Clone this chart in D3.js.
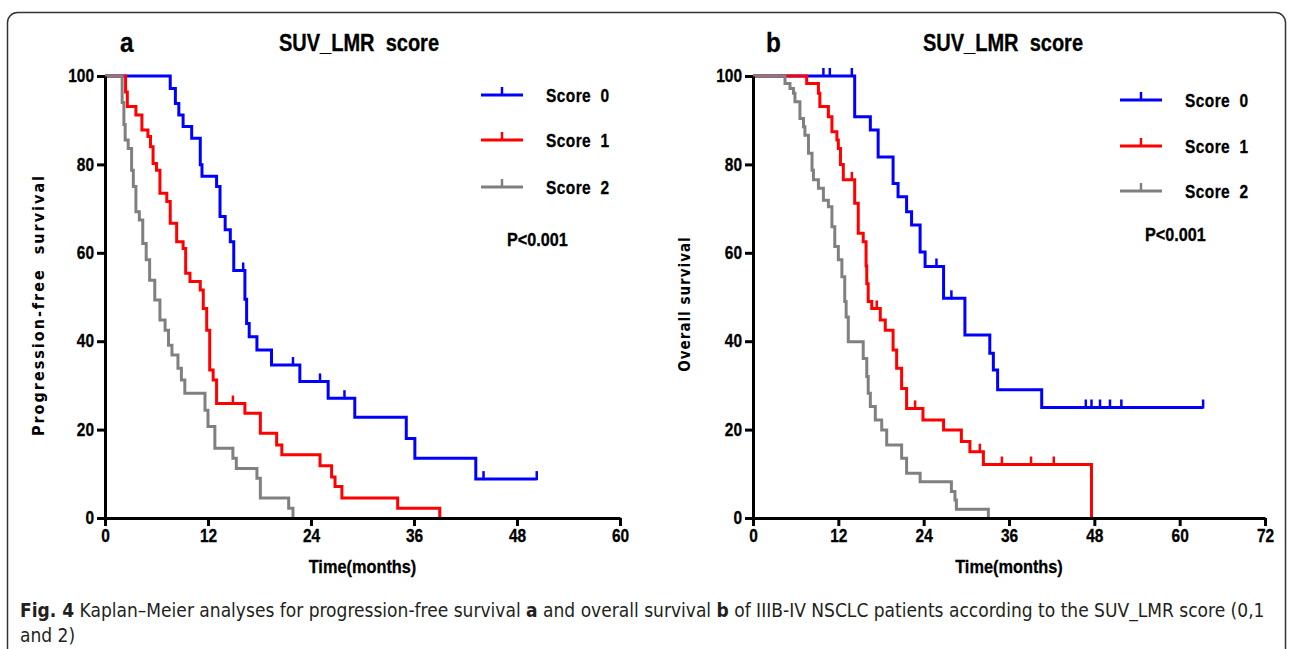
<!DOCTYPE html>
<html>
<head>
<meta charset="utf-8">
<script src="https://cdn.jsdelivr.net/npm/d3@7"></script>
<style>
  body { margin: 0; background: #fff; }
  svg { display: block; }
  .cond { font-family: 'Liberation Sans', Arial, sans-serif; font-weight: bold; fill: #000; stroke: #000; stroke-width: 0.3px; }
  .vlab { font-family: 'DejaVu Sans Condensed', 'DejaVu Sans', sans-serif; font-weight: bold; fill: #000; }
  .axis path, .axis line { stroke: #000; stroke-width: 3; }
  .axis text { font-family: 'Liberation Sans', Arial, sans-serif; font-weight: bold; font-size: 18px; fill: #000; stroke: #000; stroke-width: 0.3px; }
  .km { fill: none; stroke-width: 3; }
  .caption { font-family: 'DejaVu Sans Condensed', 'DejaVu Sans', sans-serif; font-size: 19px; fill: #231f20; }
</style>
</head>
<body>
<div class="chart"></div>
<script>
// ---- data: [months, % surviving] steps ----
const groups = ["Score  0", "Score  1", "Score  2"]
const colors = ["#0000ff", "#ff0000", "#808080"]

// a: progression-free survival
const pfs0 = [[0,100],[7.6,97.2],[8.2,93.8],[8.6,91.2],[9.1,88.6],[10.1,85.9],[11.1,79.9],[11.3,77.3],[13.0,75.0],[13.4,68.2],[14.0,65.2],[14.6,62.5],[15.0,56.0],[16.3,49.5],[16.5,44.0],[16.8,41.0],[17.7,38.0],[19.4,34.6],[22.7,30.9],[26.0,27.1],[29.1,22.8],[35.1,18.0],[36.1,13.5],[43.2,8.8],[50.3,8.8]]
const pfs1 = [[0,100],[2.4,96.4],[2.6,93.1],[3.6,91.2],[4.3,87.8],[5.0,86.3],[5.3,84.0],[5.6,80.2],[6.0,78.7],[6.4,73.5],[7.2,71.6],[7.6,66.7],[8.35,62.5],[9.1,61.0],[9.4,55.4],[9.9,53.5],[11.1,51.6],[11.45,47.4],[11.85,42.5],[12.2,33.5],[12.6,31.2],[13.0,25.9],[16.3,23.7],[18.1,19.2],[20.0,16.5],[20.6,14.3],[25.05,11.8],[26.4,9.3],[26.8,7.1],[27.6,4.5],[34.1,2.2],[39.0,0]]
const pfs2 = [[0,100],[2.0,94.0],[2.2,89.0],[2.35,85.5],[2.7,83.6],[3.1,78.7],[3.3,75.0],[3.6,69.3],[4.0,67.4],[4.4,62.1],[4.8,58.4],[5.2,53.8],[5.8,49.3],[6.4,44.8],[7.0,42.5],[7.4,39.1],[7.8,36.9],[8.5,33.9],[8.9,31.2],[9.3,28.2],[11.65,24.4],[12.0,20.7],[12.8,15.8],[14.9,13.5],[15.3,11.2],[17.7,9.0],[18.1,4.5],[21.4,2.2],[21.9,0]]
const pfs0Cens = [16.1, 21.9, 25.05, 27.9, 44.1, 50.3]
const pfs1Cens = [14.9]
const pfs2Cens = []

// b: overall survival
const os0 = [[0,100],[14.3,90.8],[16.5,87.8],[17.6,81.7],[19.7,75.7],[20.4,72.7],[21.6,69.3],[22.3,66.3],[23.5,60.2],[24.2,56.9],[26.8,49.7],[29.8,41.4],[33.3,37.3],[33.8,33.5],[34.4,29.0],[40.6,25.0],[63.3,25.0]]
const os1 = [[0,100],[7.55,98.3],[9.2,96.1],[9.4,93.1],[10.6,90.8],[11.1,87.4],[11.8,85.5],[12.0,83.6],[12.3,80.0],[12.7,76.5],[14.3,71.2],[14.8,64.4],[15.5,62.5],[15.9,57.0],[16.0,53.0],[16.2,49.0],[16.7,47.4],[17.9,44.8],[18.6,42.5],[19.7,38.0],[20.2,33.9],[20.9,29.3],[21.6,24.8],[23.9,22.2],[26.8,19.9],[29.3,17.3],[30.5,15.0],[32.4,12.1],[47.6,0]]
const os2 = [[0,100],[4.5,98.3],[5.2,97.2],[5.7,96.1],[5.9,94.2],[6.6,90.4],[7.1,88.5],[7.3,86.6],[7.8,82.5],[8.3,78.7],[8.5,76.5],[9.2,74.6],[9.9,71.9],[10.6,70.4],[11.1,65.9],[11.5,61.4],[12.0,58.4],[12.5,54.6],[12.9,49.0],[13.1,45.5],[13.4,39.9],[15.5,36.1],[16.0,32.0],[16.2,28.2],[16.5,25.2],[17.2,22.2],[18.1,19.9],[18.8,16.5],[20.9,13.5],[21.6,10.1],[23.5,8.2],[27.9,6.0],[28.4,4.1],[28.6,2.0],[33.1,0]]
const os0Cens = [9.9, 10.8, 13.9, 25.8, 27.9, 46.8, 47.6, 48.8, 50.2, 51.8, 63.3]
const os1Cens = [13.9, 17.4, 22.8, 31.9, 35.0, 39.1, 42.3]
const os2Cens = []

const yTicks = [0, 20, 40, 60, 80, 100]
const xTicksA = [0, 12, 24, 36, 48, 60]
const xTicksB = [0, 12, 24, 36, 48, 60, 72]

const width = 1292, height = 649
const sx = 0.86   // squeeze to mimic the condensed bold face

const svg = d3.select(".chart").append("svg")
    .attr("width", width)
    .attr("height", height)

svg.append("rect")
    .attr("x", 7.5).attr("y", 12.5)
    .attr("width", 1278).attr("height", 700)
    .attr("rx", 10)
    .style("fill", "none").style("stroke", "#333").style("stroke-width", 1.5)

// survival value at time t (step function)
function survAt(curve, t) {
    let s = curve[0][1]
    curve.forEach(function(p) { if (p[0] <= t) s = p[1] })
    return s
}

// condensed text: placed by translate, squeezed horizontally
function narrowText(sel, x, y, size, txt, k) {
    return sel.append("text")
        .attr("class", "cond")
        .attr("transform", "translate(" + x + "," + y + ") scale(" + (k || sx) + ",1)")
        .style("font-size", size + "px")
        .style("white-space", "pre")
        .text(txt)
}

function drawPanel(opt) {
    const x = d3.scaleLinear().domain([0, opt.xTicks[opt.xTicks.length - 1]]).range([opt.left, opt.right])
    const y = d3.scaleLinear().domain([0, 100]).range([518, 76])

    const g = svg.append("g")

    const line = d3.line()
        .x(d => x(d[0]))
        .y(d => y(d[1]))
        .curve(d3.curveStepAfter)

    // blue first, grey on top
    opt.curves.forEach(function(c, i) {
        g.append("path")
            .attr("class", "km")
            .attr("d", line(c))
            .style("stroke", colors[i])

        opt.cens[i].forEach(function(t) {
            g.append("line")
                .attr("x1", x(t)).attr("x2", x(t))
                .attr("y1", y(survAt(c, t)) + 1)
                .attr("y2", y(survAt(c, t)) - 8)
                .style("stroke", colors[i])
                .style("stroke-width", 2.5)
        })
    })

    const yG = g.append("g")
        .attr("class", "axis")
        .attr("transform", "translate(" + opt.left + ",0)")
        .call(d3.axisLeft(y).tickValues(yTicks).tickSize(8).tickSizeOuter(0).tickPadding(3))
    yG.selectAll("text").attr("x", -11 / sx).attr("transform", "scale(" + sx + ",1)")

    const xG = g.append("g")
        .attr("class", "axis")
        .attr("transform", "translate(0,518)")
        .call(d3.axisBottom(x).tickValues(opt.xTicks).tickSize(8).tickSizeOuter(0).tickPadding(3))
    xG.selectAll("text").attr("transform", "scale(" + sx + ",1)")

    narrowText(g, opt.letterX, 52, 27, opt.letter, 0.9)
    narrowText(g, opt.titleX, 51, 23, "SUV_LMR  score", 0.87).attr("text-anchor", "middle")
    narrowText(g, (opt.left + opt.right) / 2, 573, 19, "Time(months)").attr("text-anchor", "middle")

    g.append("text")
        .attr("class", "vlab")
        .attr("transform", "translate(" + opt.yLabelX + "," + opt.yLabelY + ") rotate(-90)")
        .attr("text-anchor", "middle")
        .style("font-size", opt.yLabelSize + "px")
        .style("letter-spacing", opt.yLabelSpacing + "px")
        .style("white-space", "pre")
        .text(opt.yLabel)

    // legend
    groups.forEach(function(name, i) {
        const ly = opt.legY[i]
        g.append("line")
            .attr("x1", opt.legX).attr("x2", opt.legX + 42)
            .attr("y1", ly).attr("y2", ly)
            .style("stroke", colors[i]).style("stroke-width", 3)
        g.append("line")
            .attr("x1", opt.legX + 21).attr("x2", opt.legX + 21)
            .attr("y1", ly).attr("y2", ly - 8)
            .style("stroke", colors[i]).style("stroke-width", 2.5)
        narrowText(g, opt.legX + 65, ly + 7, 18, name)
            .style("letter-spacing", "0.5px")
    })

    narrowText(g, opt.pX, opt.pY, 18, "P<0.001", 0.9)
}

drawPanel({
    left: 105, right: 620, xTicks: xTicksA,
    curves: [pfs0, pfs1, pfs2], cens: [pfs0Cens, pfs1Cens, pfs2Cens],
    letter: "a", letterX: 120, titleX: 359,
    yLabel: "Progression-free  survival", yLabelX: 44, yLabelY: 305, yLabelSize: 16, yLabelSpacing: 2,
    legX: 481, legY: [95, 140, 187], pX: 507, pY: 246
})

drawPanel({
    left: 753, right: 1265, xTicks: xTicksB,
    curves: [os0, os1, os2], cens: [os0Cens, os1Cens, os2Cens],
    letter: "b", letterX: 766, titleX: 1003,
    yLabel: "Overall survival", yLabelX: 690, yLabelY: 304, yLabelSize: 15, yLabelSpacing: 1,
    legX: 1120, legY: [100, 146, 191], pX: 1145, pY: 241
})

// caption
const cap = svg.append("text").attr("class", "caption").attr("x", 20).attr("y", 617)
cap.append("tspan").style("font-weight", "bold").text("Fig. 4")
cap.append("tspan").text(" Kaplan–Meier analyses for progression-free survival ")
cap.append("tspan").style("font-weight", "bold").text("a")
cap.append("tspan").text(" and overall survival ")
cap.append("tspan").style("font-weight", "bold").text("b")
cap.append("tspan").text(" of IIIB-IV NSCLC patients according to the SUV_LMR score (0,1")
svg.append("text").attr("class", "caption").attr("x", 20).attr("y", 642).text("and 2)")
</script>
</body>
</html>
